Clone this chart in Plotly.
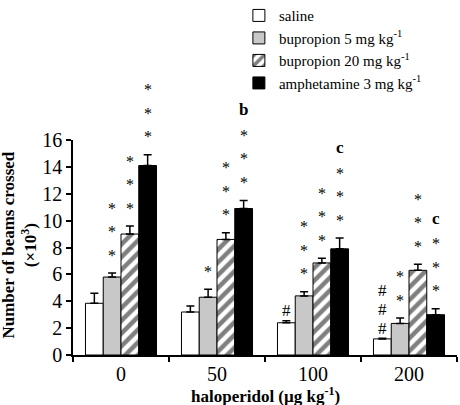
import plotly.graph_objects as go

categories = ["0", "50", "100", "200"]
series_names = [
    "saline",
    "bupropion 5 mg kg<sup>-1</sup>",
    "bupropion 20 mg kg<sup>-1</sup>",
    "amphetamine 3 mg kg<sup>-1</sup>",
]
saline = [3.85, 3.2, 2.4, 1.2]
bup5 = [5.8, 4.3, 4.4, 2.35]
bup20 = [9.0, 8.6, 6.85, 6.3]
amph = [14.1, 10.9, 7.9, 3.0]
saline_err = [0.75, 0.45, 0.15, 0.05]
bup5_err = [0.3, 0.6, 0.3, 0.4]
bup20_err = [0.6, 0.5, 0.35, 0.45]
amph_err = [0.8, 0.6, 0.8, 0.45]

# significance marks: (category index, series index, symbol, count)
marks_sym = [
    (0, 1, "*", 3), (0, 2, "*", 3), (0, 3, "*", 3),
    (1, 1, "*", 1), (1, 2, "*", 3), (1, 3, "*", 3),
    (2, 0, "#", 1), (2, 1, "*", 3), (2, 2, "*", 3), (2, 3, "*", 3),
    (3, 0, "#", 3), (3, 1, "*", 2), (3, 2, "*", 3), (3, 3, "*", 3),
]
letters = [(1, 3, "b"), (2, 3, "c"), (3, 3, "c")]

x_title = "<b>haloperidol (µg kg<sup>-1</sup>)</b>"
y_title = "<b>Number of beams crossed<br>(×10<sup>3</sup>)</b>"

values = [saline, bup5, bup20, amph]
errors = [saline_err, bup5_err, bup20_err, amph_err]
colors = ["white", "#c8c8c8", "white", "black"]

FONT = "'Liberation Serif', 'Times New Roman', Times, serif"
bargap = 0.26
w = (1 - bargap) / 4

fig = go.Figure()
for j in range(4):
    marker = dict(color=colors[j], line=dict(color="black", width=1))
    if j == 2:
        marker["pattern"] = dict(shape="/", fgcolor="black", bgcolor="white",
                                 size=9, solidity=0.5)
    fig.add_trace(go.Bar(
        x=categories, y=values[j], name=series_names[j], marker=marker,
        legendgroup="g%d" % j,
        error_y=dict(type="data", array=errors[j], arrayminus=[0] * 4,
                     symmetric=False, color="black", thickness=1.5, width=4),
    ))

annotations = []
for (ci, sj, sym, n) in marks_sym:
    top = values[sj][ci] + errors[sj][ci]
    base = 10 if sym == "#" else 18
    step = 19 if sym == "#" else 23.5
    for k in range(n):
        annotations.append(dict(
            x=ci + (sj - 1.5) * w, y=top, xref="x", yref="y", text=sym,
            showarrow=False, yanchor="middle", yshift=base + k * step,
            font=dict(family=FONT, size=17 if sym == "#" else 16, color="black"),
        ))
for (ci, sj, letter) in letters:
    top = values[sj][ci] + errors[sj][ci]
    n = [m[3] for m in marks_sym if m[0] == ci and m[1] == sj][0]
    annotations.append(dict(
        x=ci + (sj - 1.5) * w, y=top, xref="x", yref="y", text="<b>%s</b>" % letter,
        showarrow=False, yanchor="middle", yshift=18 + n * 23.5 + 2,
        font=dict(family=FONT, size=17, color="black"),
    ))
annotations.append(dict(
    x=-0.14, y=0.51, xref="paper", yref="paper", text=y_title, textangle=-90,
    showarrow=False, xanchor="center", yanchor="middle",
    font=dict(family=FONT, size=17, color="black"),
))
annotations.append(dict(
    x=0.5, y=-0.185, xref="paper", yref="paper", text=x_title,
    showarrow=False, xanchor="center", yanchor="middle",
    font=dict(family=FONT, size=17, color="black"),
))

fig.update_layout(
    width=460, height=405,
    margin=dict(l=73, r=3, t=140, b=50, autoexpand=False),
    paper_bgcolor="white", plot_bgcolor="white",
    barmode="group", bargap=bargap, bargroupgap=0,
    font=dict(family=FONT, size=17, color="black"),
    showlegend=True,
    legend=dict(x=0.432, y=1.655, xanchor="left", yanchor="top",
                font=dict(family=FONT, size=15), bgcolor="rgba(0,0,0,0)",
                tracegroupgap=5, itemwidth=30, traceorder="normal"),
    annotations=annotations,
)
fig.update_xaxes(
    showline=True, linecolor="black", linewidth=1.5,
    ticks="outside", tickson="boundaries", ticklen=5, tickcolor="black", tickwidth=1.5,
    tickfont=dict(family=FONT, size=20),
    showgrid=False, zeroline=False,
)
fig.update_yaxes(
    range=[0, 16], dtick=2, showline=True, linecolor="black", linewidth=1.5,
    ticks="outside", ticklen=5, tickcolor="black", tickwidth=1.5,
    tickfont=dict(family=FONT, size=20),
    showgrid=False, zeroline=False,
)

fig.write_html(
    "out.html",
    config={"displayModeBar": False},
    post_script="document.body.style.margin='0';document.body.style.overflow='hidden';",
)
